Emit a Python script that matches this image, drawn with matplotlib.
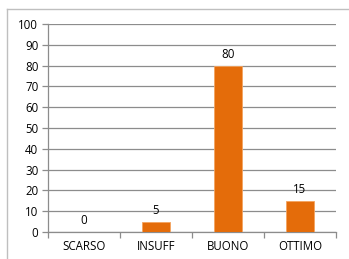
import matplotlib
matplotlib.use("Agg")
import matplotlib.pyplot as plt
from matplotlib.lines import Line2D

categories = ["SCARSO", "INSUFF", "BUONO", "OTTIMO"]
values = [0, 5, 80, 15]
yticks = [0, 10, 20, 30, 40, 50, 60, 70, 80, 90, 100]

W, H = 349, 259
fig = plt.figure(figsize=(W / 100, H / 100), dpi=100)
plt.rcParams['font.family'] = ['Open Sans', 'DejaVu Sans']
fs = 8.3

# axes in pixel coords: left 48, right 336, top 24, bottom 232
ax = fig.add_axes([48 / W, 1 - 232 / H, (336 - 48) / W, (232 - 24) / H])
grid_c = "#8c8c8c"
x = list(range(len(categories)))
ax.bar(x, values, width=0.4, color="#E46C0A", edgecolor="#F4A460", linewidth=0.6, zorder=3)
ax.set_xlim(-0.5, len(categories) - 0.5)
ax.set_ylim(0, 100)
ax.set_yticks(yticks)
ax.set_yticklabels([str(t) for t in yticks], fontsize=fs, color="#000000")
ax.yaxis.grid(True, color=grid_c, linewidth=0.9, zorder=0)
ax.set_xticks([i - 0.5 for i in range(len(categories) + 1)])
ax.set_xticklabels([])
ax.set_xticks(x, minor=True)
ax.set_xticklabels(categories, minor=True, fontsize=fs)
ax.tick_params(axis='x', which='minor', length=0, pad=6)
ax.tick_params(axis='x', which='major', length=4, color=grid_c, width=0.9)
ax.tick_params(axis='y', length=4, color=grid_c, width=0.9, pad=3)
for s in ["top", "right"]:
    ax.spines[s].set_visible(False)
for s in ["left", "bottom"]:
    ax.spines[s].set_color(grid_c)
    ax.spines[s].set_linewidth(0.9)

for xi, v in zip(x, values):
    ax.annotate(str(v), (xi, v), xytext=(0, 5), textcoords="offset pixels",
                ha="center", va="bottom", fontsize=fs)

# outer chart border (left and top visible)
fig.add_artist(Line2D([7 / W, 7 / W], [0, 1 - 9 / H], transform=fig.transFigure, color="#bfbfbf", linewidth=1))
fig.add_artist(Line2D([7 / W, 1], [1 - 9 / H, 1 - 9 / H], transform=fig.transFigure, color="#bfbfbf", linewidth=1))

fig.savefig("out.png", dpi=100)
